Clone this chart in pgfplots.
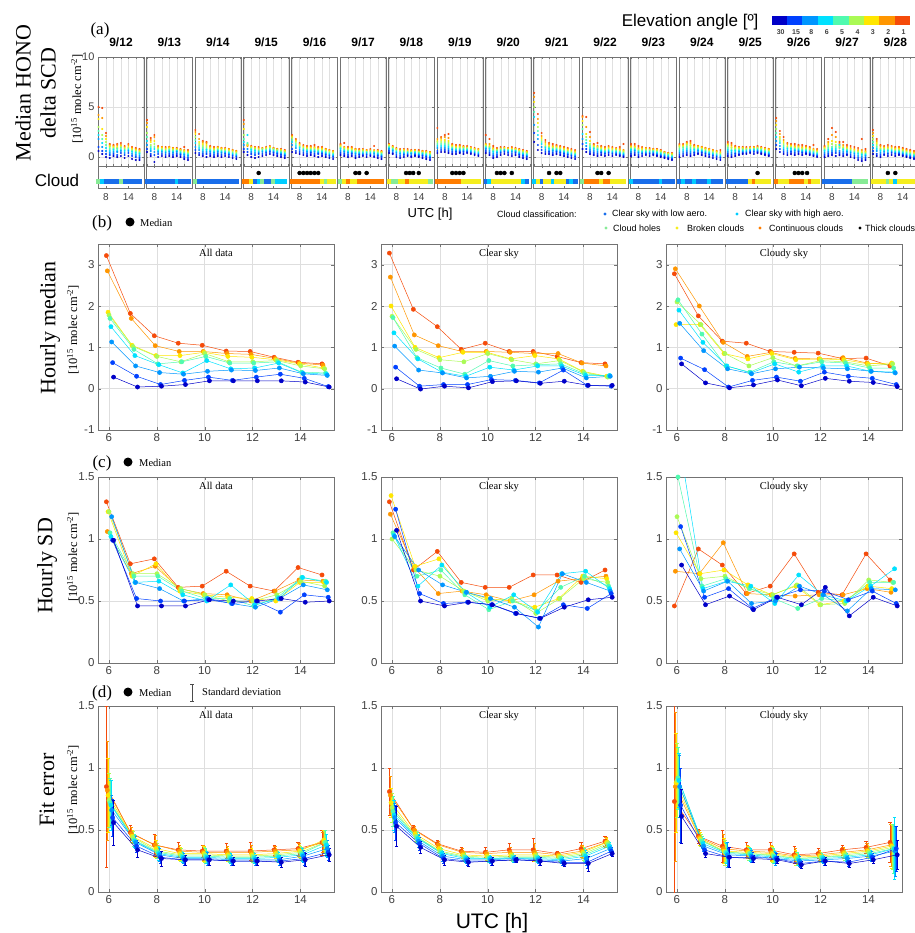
\documentclass[border=0pt]{standalone}
\usepackage{pgfplots}
\pgfplotsset{compat=1.18}
\usepackage{pgfplotstable}
\usepackage{fontspec}
\setmainfont{Liberation Serif}
\setsansfont{Liberation Sans}

\definecolor{e30}{RGB}{0,0,200}
\definecolor{e15}{RGB}{0,65,255}
\definecolor{e8}{RGB}{0,150,255}
\definecolor{e6}{RGB}{0,225,255}
\definecolor{e5}{RGB}{80,250,175}
\definecolor{e4}{RGB}{170,250,85}
\definecolor{e3}{RGB}{255,230,0}
\definecolor{e2}{RGB}{255,150,0}
\definecolor{e1}{RGB}{245,75,10}
\definecolor{clL}{RGB}{25,110,235}
\definecolor{clH}{RGB}{0,205,255}
\definecolor{clO}{RGB}{135,235,150}
\definecolor{clB}{RGB}{245,238,30}
\definecolor{clC}{RGB}{255,125,0}

% ---------- panel (a) daily data: h, nine elevation angles, cloud class ----------
\pgfplotstableread{
h e30 e15 e8 e6 e5 e4 e3 e2 e1 c
6 0.6 1.0 1.8 2.2 2.6 3.0 3.8 4.2 5.0 O
7 0.3 0.6 1.0 1.4 1.8 2.2 2.8 3.9 4.9 H
8 0.0 0.3 0.6 0.9 1.2 1.5 1.8 2.1 2.4 L
9 -0.1 0.2 0.4 0.6 0.8 1.0 1.1 1.2 1.3 L
10 0.1 0.3 0.5 0.7 0.8 0.9 1.0 1.1 1.2 L
11 0.0 0.2 0.5 0.6 0.8 0.9 1.0 1.2 1.3 L
12 0.1 0.4 0.6 0.7 0.9 1.0 1.1 1.2 1.4 O
13 -0.1 0.2 0.4 0.6 0.7 0.8 0.9 1.0 1.1 L
14 0.1 0.4 0.6 0.7 0.8 0.9 1.0 1.2 1.3 L
15 -0.2 0.1 0.3 0.5 0.6 0.7 0.8 0.9 1.0 L
16 -0.3 0.0 0.2 0.4 0.5 0.6 0.7 0.8 0.9 L
17 -0.3 -0.1 0.1 0.3 0.4 0.5 0.6 0.7 0.8 L
}\dA
\pgfplotstableread{
h e30 e15 e8 e6 e5 e4 e3 e2 e1 c
6 0.5 0.8 1.2 1.6 2.0 2.4 3.0 3.4 3.7 L
7 0.1 0.3 0.6 0.8 1.0 1.2 1.5 1.7 1.9 L
8 -0.5 0.2 0.5 0.8 1.0 1.3 1.6 2.0 2.2 L
9 0.0 0.3 0.5 0.6 0.7 0.8 0.9 1.0 1.1 L
10 0.1 0.3 0.5 0.6 0.7 0.8 0.9 1.0 1.0 L
11 0.0 0.2 0.4 0.5 0.6 0.7 0.8 0.9 1.0 L
12 0.1 0.3 0.5 0.6 0.7 0.8 0.9 1.0 1.0 L
13 0.0 0.2 0.4 0.5 0.6 0.7 0.8 0.9 0.9 L
14 0.1 0.3 0.5 0.6 0.6 0.7 0.8 0.8 0.9 H
15 0.0 0.2 0.3 0.4 0.5 0.6 0.7 0.7 0.8 L
16 -0.2 0.0 0.2 0.3 0.4 0.5 0.6 0.7 1.0 L
17 -0.3 -0.1 0.1 0.2 0.3 0.4 0.5 0.6 0.7 L
}\dB
\pgfplotstableread{
h e30 e15 e8 e6 e5 e4 e3 e2 e1 c
6 0.4 0.7 1.0 1.4 1.7 2.0 2.3 2.5 2.7 O
7 0.2 0.4 0.7 0.9 1.1 1.3 1.5 1.8 2.3 L
8 0.1 0.3 0.5 0.7 0.9 1.1 1.3 1.5 1.6 L
9 0.0 0.3 0.5 0.7 0.8 1.0 1.2 1.4 1.5 L
10 0.1 0.3 0.5 0.6 0.7 0.8 0.9 1.0 1.1 L
11 0.0 0.2 0.4 0.5 0.6 0.7 0.8 0.9 1.0 L
12 0.1 0.3 0.5 0.6 0.7 0.8 0.9 1.0 1.0 L
13 0.0 0.2 0.4 0.5 0.6 0.7 0.8 0.9 0.9 L
14 0.1 0.3 0.4 0.5 0.6 0.7 0.8 0.8 0.9 L
15 0.0 0.2 0.3 0.4 0.5 0.6 0.7 0.8 0.8 L
16 -0.1 0.1 0.2 0.3 0.4 0.5 0.6 0.7 0.7 L
17 -0.2 0.0 0.1 0.2 0.3 0.4 0.5 0.6 0.6 L
}\dC
\pgfplotstableread{
h e30 e15 e8 e6 e5 e4 e3 e2 e1 c
6 0.5 0.8 1.2 1.5 1.8 2.2 2.8 3.3 3.7 C
7 0.2 0.5 0.8 2.2 1.4 1.3 1.2 1.1 1.2 C
8 0.0 0.3 0.5 0.7 0.8 0.9 1.0 1.0 1.1 B
9 -0.1 0.2 0.4 0.6 0.7 0.8 0.9 0.9 1.0 L
10 0.0 0.3 0.4 0.5 0.6 0.7 0.8 0.9 1.0 H
11 0.1 0.3 0.5 0.6 0.7 0.8 0.8 0.9 0.9 O
12 0.2 0.4 0.5 0.6 0.7 0.8 0.9 0.9 1.0 L
13 0.3 0.5 0.6 0.7 0.8 0.9 1.0 1.0 1.1 L
14 0.2 0.4 0.5 0.6 0.7 0.8 0.8 0.9 0.9 O
15 0.1 0.3 0.4 0.5 0.6 0.7 0.7 0.8 0.8 H
16 0.0 0.2 0.3 0.4 0.5 0.6 0.7 0.7 0.8 H
17 -0.1 0.1 0.2 0.3 0.4 0.5 0.6 0.6 0.7 H
}\dD
\pgfplotstableread{
h e30 e15 e8 e6 e5 e4 e3 e2 e1 c
6 0.5 0.8 1.2 1.5 1.7 1.9 2.0 2.1 2.2 C
7 0.4 0.6 0.9 1.1 1.3 1.5 1.6 1.7 1.8 C
8 0.3 0.5 0.7 0.9 1.0 1.1 1.2 1.3 1.4 C
9 0.2 0.4 0.6 0.7 0.8 0.9 1.0 1.1 1.2 C
10 0.1 0.3 0.5 0.6 0.7 0.8 0.9 1.0 1.1 C
11 0.2 0.4 0.5 0.6 0.7 0.8 0.9 1.0 1.1 C
12 0.1 0.3 0.5 0.6 0.7 0.8 0.9 1.0 1.2 C
13 0.0 0.3 0.4 0.5 0.6 0.7 0.8 0.9 1.0 C
14 0.1 0.3 0.4 0.5 0.6 0.7 0.8 0.9 1.0 B
15 0.0 0.2 0.3 0.4 0.5 0.6 0.7 0.8 0.8 O
16 -0.1 0.1 0.2 0.3 0.4 0.5 0.6 0.7 0.7 B
17 -0.2 0.0 0.1 0.2 0.3 0.4 0.5 0.6 0.6 B
}\dE
\pgfplotstableread{
h e30 e15 e8 e6 e5 e4 e3 e2 e1 c
6 0.2 0.4 0.6 0.8 0.9 1.0 1.1 1.2 1.3 O
7 0.1 0.3 0.5 0.6 0.7 0.8 0.9 1.0 1.4 B
8 0.0 0.2 0.4 0.5 0.6 0.7 0.8 0.9 1.0 C
9 0.1 0.3 0.4 0.5 0.6 0.7 0.8 0.9 1.0 B
10 -0.1 0.1 0.3 0.4 0.5 0.6 0.7 0.8 0.8 B
11 0.0 0.2 0.3 0.4 0.5 0.6 0.6 0.7 0.8 C
12 0.1 0.2 0.3 0.4 0.5 0.6 0.7 0.7 0.8 C
13 0.0 0.2 0.3 0.4 0.5 0.5 0.6 0.7 0.7 C
14 0.1 0.2 0.3 0.4 0.5 0.6 0.6 0.7 0.8 C
15 0.0 0.1 0.3 0.4 0.5 0.5 0.6 0.7 1.1 C
16 -0.1 0.1 0.2 0.3 0.4 0.5 0.6 0.6 0.7 C
17 -0.2 0.0 0.1 0.2 0.3 0.4 0.5 0.5 0.6 C
}\dF
\pgfplotstableread{
h e30 e15 e8 e6 e5 e4 e3 e2 e1 c
6 0.4 0.6 0.8 0.9 1.0 1.1 1.2 1.2 1.3 B
7 0.3 0.4 0.6 0.7 0.8 0.9 1.0 1.0 1.1 O
8 0.0 0.2 0.4 0.5 0.6 0.7 0.8 0.8 0.9 O
9 -0.1 0.1 0.3 0.4 0.5 0.6 0.6 0.7 0.8 B
10 0.0 0.2 0.3 0.4 0.5 0.6 0.7 0.7 0.8 B
11 0.1 0.2 0.3 0.4 0.5 0.5 0.6 0.7 0.8 C
12 0.0 0.1 0.3 0.4 0.4 0.5 0.6 0.6 0.7 B
13 0.1 0.2 0.3 0.4 0.5 0.5 0.6 0.7 0.7 B
14 0.0 0.1 0.2 0.3 0.4 0.5 0.5 0.6 0.7 B
15 -0.1 0.1 0.2 0.3 0.4 0.4 0.5 0.6 0.6 B
16 -0.2 0.0 0.1 0.2 0.3 0.4 0.5 0.5 0.6 B
17 -0.3 -0.1 0.0 0.1 0.2 0.3 0.4 0.5 0.5 O
}\dG
\pgfplotstableread{
h e30 e15 e8 e6 e5 e4 e3 e2 e1 c
6 0.4 0.6 0.9 1.1 1.3 1.5 1.6 1.8 2.9 C
7 0.5 0.7 0.9 1.1 1.3 1.5 1.7 1.9 2.0 C
8 0.5 0.7 0.9 1.1 1.3 1.5 1.7 2.0 2.2 C
9 0.4 0.6 0.8 1.0 1.2 1.4 1.6 1.9 2.3 C
10 0.3 0.5 0.7 0.8 0.9 1.0 1.1 1.2 1.3 C
11 0.3 0.5 0.6 0.7 0.8 0.9 1.0 1.1 1.2 C
12 0.4 0.5 0.6 0.7 0.8 0.9 1.0 1.1 1.2 C
13 0.3 0.5 0.6 0.7 0.8 0.9 1.0 1.0 1.1 B
14 0.4 0.5 0.6 0.7 0.8 0.9 0.9 1.0 1.1 B
15 0.3 0.4 0.5 0.6 0.7 0.8 0.9 0.9 1.0 B
16 0.2 0.3 0.4 0.5 0.6 0.7 0.8 0.8 0.9 B
17 0.1 0.2 0.3 0.4 0.5 0.6 0.7 0.8 0.8 B
}\dH
\pgfplotstableread{
h e30 e15 e8 e6 e5 e4 e3 e2 e1 c
6 0.4 0.6 0.8 0.9 1.0 1.1 1.2 1.3 2.2 L
7 0.2 0.4 0.6 0.8 0.9 1.0 1.1 1.3 1.8 H
8 -0.1 0.1 0.3 0.5 0.6 0.7 0.8 0.9 1.1 B
9 0.0 0.2 0.4 0.5 0.6 0.7 0.7 0.8 0.9 B
10 0.2 0.4 0.5 0.6 0.7 0.8 0.8 0.9 1.0 B
11 0.3 0.5 0.6 0.7 0.7 0.8 0.9 0.9 1.0 B
12 0.2 0.4 0.5 0.6 0.7 0.7 0.8 0.9 0.9 B
13 0.1 0.3 0.5 0.6 0.7 0.7 0.8 0.9 1.0 B
14 0.2 0.4 0.5 0.6 0.6 0.7 0.8 0.8 0.9 B
15 0.0 0.2 0.3 0.4 0.5 0.6 0.7 0.7 0.8 B
16 -0.1 0.1 0.2 0.3 0.4 0.5 0.6 0.6 0.7 H
17 -0.2 0.0 0.1 0.2 0.3 0.4 0.5 0.5 0.6 L
}\dI
\pgfplotstableread{
h e30 e15 e8 e6 e5 e4 e3 e2 e1 c
6 1.5 2.4 3.2 4.0 4.5 5.0 5.5 6.0 6.4 H
7 0.7 1.2 1.8 2.2 2.6 3.0 3.4 3.8 4.3 B
8 0.4 0.7 1.0 1.3 1.5 1.7 1.9 2.1 2.4 L
9 0.3 0.5 0.7 0.9 1.0 1.1 1.3 1.5 1.7 B
10 0.3 0.5 0.6 0.8 0.9 1.0 1.1 1.3 1.4 B
11 0.2 0.4 0.6 0.7 0.8 0.9 1.0 1.1 1.3 H
12 0.3 0.5 0.6 0.7 0.8 0.9 1.0 1.1 1.2 B
13 0.2 0.4 0.5 0.6 0.7 0.8 0.9 1.0 1.1 B
14 0.1 0.3 0.4 0.5 0.6 0.7 0.8 0.9 1.0 B
15 0.0 0.2 0.3 0.4 0.5 0.6 0.7 0.8 0.9 L
16 -0.1 0.1 0.2 0.3 0.4 0.5 0.6 0.7 0.8 H
17 -0.2 0.0 0.1 0.2 0.3 0.4 0.5 0.6 0.7 L
}\dJ
\pgfplotstableread{
h e30 e15 e8 e6 e5 e4 e3 e2 e1 c
6 0.8 1.3 1.8 2.3 2.8 3.2 3.6 4.0 4.1 O
7 0.5 0.8 1.1 1.4 1.7 2.0 2.3 3.0 4.0 C
8 0.3 0.5 0.7 0.9 1.1 1.3 1.6 2.0 2.5 C
9 0.2 0.4 0.6 0.8 0.9 1.0 1.1 1.2 1.3 C
10 0.1 0.3 0.5 0.7 0.8 0.9 1.0 1.1 1.4 C
11 0.2 0.4 0.5 0.6 0.7 0.8 0.9 1.0 1.1 B
12 0.1 0.3 0.4 0.5 0.6 0.7 0.8 0.9 1.0 C
13 0.2 0.4 0.5 0.6 0.7 0.8 0.9 1.0 1.1 C
14 0.1 0.3 0.4 0.5 0.6 0.7 0.8 0.9 1.0 B
15 0.2 0.3 0.4 0.5 0.6 0.7 0.8 0.8 0.9 B
16 0.1 0.2 0.3 0.4 0.5 0.6 0.7 0.8 1.0 B
17 0.0 0.1 0.2 0.3 0.4 0.5 0.6 0.7 1.3 B
}\dK
\pgfplotstableread{
h e30 e15 e8 e6 e5 e4 e3 e2 e1 c
6 0.1 0.3 0.5 0.7 0.8 0.9 1.0 1.1 1.3 H
7 0.2 0.4 0.6 0.7 0.8 0.9 1.0 1.1 1.3 L
8 0.0 0.2 0.4 0.5 0.6 0.7 0.8 0.9 1.1 L
9 0.1 0.3 0.4 0.5 0.6 0.7 0.8 0.9 1.0 L
10 0.2 0.3 0.4 0.5 0.6 0.7 0.8 0.9 0.9 L
11 0.1 0.3 0.4 0.5 0.6 0.7 0.7 0.8 0.9 L
12 0.2 0.3 0.4 0.5 0.6 0.6 0.7 0.8 0.8 L
13 0.1 0.2 0.3 0.4 0.5 0.6 0.7 0.7 0.8 L
14 0.0 0.1 0.2 0.3 0.4 0.5 0.6 0.6 0.7 H
15 -0.1 0.0 0.1 0.2 0.3 0.4 0.4 0.5 0.5 L
16 -0.2 -0.1 0.0 0.1 0.2 0.3 0.3 0.4 0.4 L
17 -0.3 -0.2 -0.1 0.0 0.1 0.2 0.3 0.3 0.4 L
}\dL
\pgfplotstableread{
h e30 e15 e8 e6 e5 e4 e3 e2 e1 c
6 0.0 0.2 0.4 0.6 0.8 1.0 1.1 1.2 1.3 L
7 0.1 0.3 0.5 0.7 0.9 1.0 1.1 1.2 1.3 H
8 0.2 0.4 0.6 0.8 1.0 1.2 1.3 1.4 1.5 L
9 0.1 0.3 0.5 0.7 0.9 1.1 1.2 1.4 1.6 L
10 0.2 0.4 0.5 0.7 0.8 0.9 1.0 1.1 1.2 H
11 0.3 0.4 0.6 0.7 0.8 0.9 1.0 1.1 1.1 L
12 0.2 0.4 0.5 0.6 0.7 0.8 0.9 1.0 1.0 L
13 0.1 0.3 0.4 0.5 0.6 0.7 0.8 0.9 0.9 L
14 0.0 0.2 0.3 0.4 0.5 0.6 0.7 0.8 0.8 H
15 -0.1 0.1 0.2 0.3 0.4 0.5 0.6 0.7 0.7 L
16 -0.2 0.0 0.1 0.2 0.3 0.4 0.5 0.6 0.6 L
17 -0.3 -0.1 0.0 0.1 0.2 0.3 0.4 0.5 0.7 L
}\dM
\pgfplotstableread{
h e30 e15 e8 e6 e5 e4 e3 e2 e1 c
6 0.1 0.3 0.5 0.7 0.9 1.1 1.2 1.3 1.5 L
7 0.0 0.2 0.4 0.6 0.7 0.9 1.0 1.2 1.4 L
8 0.1 0.3 0.4 0.6 0.7 0.8 0.9 1.0 1.1 L
9 0.2 0.3 0.5 0.6 0.7 0.8 0.9 0.9 1.0 L
10 0.3 0.4 0.5 0.6 0.7 0.8 0.9 0.9 1.0 L
11 0.3 0.4 0.5 0.6 0.7 0.8 0.8 0.9 1.0 L
12 0.4 0.5 0.6 0.7 0.7 0.8 0.9 0.9 1.0 B
13 0.3 0.5 0.6 0.7 0.8 0.8 0.9 1.0 1.0 C
14 0.4 0.5 0.6 0.7 0.8 0.9 0.9 1.0 1.1 B
15 0.3 0.4 0.5 0.6 0.7 0.8 0.9 0.9 1.0 B
16 0.2 0.3 0.4 0.5 0.6 0.7 0.8 0.8 0.9 B
17 0.1 0.2 0.3 0.4 0.5 0.6 0.7 0.8 0.8 B
}\dN
\pgfplotstableread{
h e30 e15 e8 e6 e5 e4 e3 e2 e1 c
6 0.8 1.2 1.6 2.0 2.4 2.8 3.2 3.6 3.9 C
7 0.5 0.8 1.1 1.4 1.6 1.8 2.0 2.3 2.6 B
8 0.3 0.5 0.7 0.9 1.1 1.3 1.5 1.7 2.0 B
9 0.2 0.4 0.6 0.8 0.9 1.0 1.1 1.3 1.4 B
10 0.3 0.5 0.6 0.8 0.9 1.0 1.1 1.2 1.3 C
11 0.2 0.4 0.6 0.7 0.8 0.9 1.0 1.1 1.3 C
12 0.3 0.5 0.6 0.7 0.8 0.9 1.0 1.1 1.2 C
13 0.2 0.4 0.5 0.6 0.7 0.8 0.9 1.0 1.2 C
14 0.3 0.4 0.5 0.6 0.7 0.8 0.9 1.0 1.1 B
15 0.2 0.3 0.4 0.5 0.6 0.7 0.8 0.9 1.0 C
16 0.1 0.2 0.3 0.4 0.5 0.6 0.7 0.8 1.2 B
17 0.0 0.1 0.2 0.3 0.4 0.5 0.6 0.7 0.8 B
}\dO
\pgfplotstableread{
h e30 e15 e8 e6 e5 e4 e3 e2 e1 c
6 0.0 0.2 0.4 0.6 0.7 0.8 0.9 1.0 1.1 L
7 0.1 0.3 0.5 0.7 0.9 1.1 1.3 1.5 1.8 L
8 0.2 0.4 0.6 0.8 1.0 1.3 1.6 2.2 2.9 L
9 0.1 0.4 0.6 0.8 1.0 1.2 1.5 2.0 2.5 L
10 0.2 0.4 0.6 1.2 0.9 1.0 1.1 1.3 1.5 L
11 0.1 0.3 0.5 0.7 0.8 0.9 1.0 1.2 1.5 L
12 0.2 0.3 0.5 0.6 0.7 0.8 0.9 1.0 1.2 L
13 0.0 0.2 0.4 0.5 0.6 0.7 0.8 0.9 1.1 L
14 -0.1 0.1 0.3 0.4 0.5 0.6 0.7 0.8 1.0 O
15 -0.3 -0.1 0.1 0.3 0.4 0.5 0.6 0.7 0.9 O
16 -0.4 -0.2 0.0 0.2 0.3 0.4 0.5 0.7 1.8 O
17 -0.3 -0.1 0.1 0.2 0.3 0.4 0.5 0.6 0.8 O
}\dP
\pgfplotstableread{
h e30 e15 e8 e6 e5 e4 e3 e2 e1 c
6 0.3 0.6 0.9 1.2 1.5 1.8 2.1 2.4 2.7 B
7 0.1 0.3 0.6 0.8 1.0 1.2 1.4 1.6 1.8 B
8 0.0 0.2 0.4 0.6 0.7 0.8 0.9 1.1 1.2 B
9 0.2 0.3 0.5 0.6 0.7 0.8 0.9 1.0 1.1 B
10 0.1 0.3 0.4 0.6 0.7 0.8 0.9 1.0 1.2 O
11 0.2 0.4 0.5 0.6 0.7 0.8 0.9 1.0 1.1 B
12 0.1 0.3 0.4 0.5 0.6 0.7 0.8 0.9 1.0 H
13 0.2 0.3 0.4 0.5 0.6 0.7 0.8 0.9 1.0 B
14 0.1 0.2 0.3 0.4 0.5 0.6 0.7 0.8 0.9 B
15 0.0 0.1 0.2 0.3 0.4 0.5 0.6 0.7 0.8 B
16 -0.1 0.0 0.1 0.2 0.3 0.4 0.5 0.6 0.7 B
17 -0.2 -0.1 0.0 0.1 0.2 0.3 0.4 0.5 0.6 B
}\dQ

% ---------- panel (b): hourly median ----------
\pgfplotstableread{
h e30 e15 e8 e6 e5 e4 e3 e2 e1
6 0.28 0.63 1.13 1.50 1.70 1.78 1.85 2.85 3.22
7 0.04 0.30 0.55 0.80 0.95 1.02 1.05 1.70 1.82
8 0.06 0.10 0.39 0.58 0.60 0.78 0.80 1.04 1.28
9 0.10 0.20 0.35 0.38 0.65 0.65 0.80 0.90 1.10
10 0.19 0.28 0.42 0.68 0.78 0.85 0.88 0.90 1.05
11 0.19 0.20 0.45 0.48 0.62 0.65 0.78 0.85 0.91
12 0.19 0.28 0.44 0.50 0.62 0.65 0.76 0.83 0.90
13 0.19 0.35 0.50 0.62 0.65 0.68 0.70 0.73 0.76
14 0.16 0.25 0.36 0.38 0.40 0.55 0.60 0.62 0.64
15 0.04 0.05 0.32 0.35 0.38 0.48 0.50 0.57 0.60
}\hbA
\pgfplotstableread{
h e30 e15 e8 e6 e5 e4 e3 e2 e1
6 0.24 0.52 1.03 1.35 1.72 1.75 2.00 2.70 3.28
7 -0.01 0.06 0.45 0.72 0.75 0.95 1.00 1.30 1.92
8 0.06 0.10 0.38 0.40 0.50 0.70 0.75 1.04 1.50
9 0.02 0.10 0.26 0.30 0.35 0.65 0.88 0.90 0.95
10 0.17 0.22 0.30 0.52 0.68 0.85 0.88 0.90 1.10
11 0.19 0.20 0.42 0.45 0.55 0.70 0.72 0.88 0.90
12 0.13 0.14 0.40 0.55 0.58 0.60 0.80 0.85 0.90
13 0.18 0.45 0.50 0.55 0.60 0.68 0.72 0.85 0.78
14 0.08 0.08 0.26 0.32 0.36 0.40 0.42 0.62 0.63
15 0.08 0.06 0.30 0.32 0.30 0.28 0.30 0.55 0.60
}\hbB
\pgfplotstableread{
h e30 e15 e8 e6 e5 e4 e3 e2 e1
6 0.60 0.74 1.58 1.90 2.15 2.10 1.55 2.90 2.78
7 0.14 0.46 0.92 1.12 1.32 1.55 1.55 2.00 1.76
8 0.02 0.04 0.48 0.55 0.55 0.85 0.85 1.12 1.15
9 0.09 0.20 0.36 0.38 0.40 0.55 0.72 0.78 1.10
10 0.21 0.28 0.48 0.60 0.65 0.75 0.85 0.88 0.90
11 0.07 0.18 0.52 0.40 0.55 0.55 0.70 0.73 0.88
12 0.25 0.40 0.50 0.55 0.65 0.68 0.72 0.72 0.86
13 0.18 0.30 0.48 0.55 0.62 0.65 0.70 0.75 0.73
14 0.15 0.25 0.42 0.42 0.50 0.55 0.60 0.62 0.74
15 0.05 0.10 0.38 0.40 0.50 0.60 0.62 0.58 0.55
}\hbC

% ---------- panel (c): hourly SD ----------
\pgfplotstableread{
h e30 e15 e8 e6 e5 e4 e3 e2 e1
6 0.99 0.99 1.18 1.02 1.05 1.22 1.22 1.06 1.30
7 0.46 0.52 0.65 0.65 0.70 0.72 0.70 0.72 0.80
8 0.46 0.50 0.60 0.66 0.70 0.72 0.80 0.78 0.84
9 0.46 0.50 0.50 0.55 0.58 0.60 0.58 0.60 0.61
10 0.51 0.51 0.52 0.50 0.52 0.55 0.55 0.56 0.62
11 0.50 0.48 0.48 0.63 0.52 0.50 0.53 0.55 0.74
12 0.50 0.50 0.45 0.47 0.46 0.50 0.52 0.50 0.62
13 0.52 0.41 0.52 0.52 0.53 0.55 0.50 0.58 0.58
14 0.49 0.55 0.63 0.69 0.69 0.66 0.65 0.67 0.77
15 0.50 0.53 0.59 0.65 0.66 0.62 0.65 0.66 0.71
}\hcA
\pgfplotstableread{
h e30 e15 e8 e6 e5 e4 e3 e2 e1
6 1.07 1.24 1.02 1.03 1.05 1.00 1.35 1.20 1.30
7 0.50 0.56 0.75 0.62 0.70 0.75 0.78 0.77 0.75
8 0.46 0.48 0.63 0.79 0.75 0.70 0.84 0.56 0.90
9 0.49 0.49 0.57 0.57 0.55 0.58 0.58 0.58 0.65
10 0.47 0.47 0.52 0.45 0.43 0.50 0.52 0.55 0.61
11 0.40 0.40 0.45 0.55 0.50 0.52 0.50 0.50 0.61
12 0.36 0.36 0.29 0.41 0.42 0.40 0.45 0.55 0.71
13 0.45 0.47 0.72 0.72 0.61 0.52 0.52 0.66 0.71
14 0.51 0.44 0.65 0.74 0.70 0.68 0.70 0.68 0.65
15 0.53 0.56 0.58 0.60 0.62 0.65 0.68 0.70 0.75
}\hcB
\pgfplotstableread{
h e30 e15 e8 e6 e5 e4 e3 e2 e1
6 0.79 1.10 0.92 1.80 1.50 1.18 1.05 0.74 0.46
7 0.47 0.53 0.58 0.60 0.62 0.68 0.72 0.72 0.92
8 0.54 0.60 0.66 0.66 0.68 0.70 0.75 0.97 0.79
9 0.43 0.44 0.48 0.62 0.60 0.60 0.63 0.56 0.56
10 0.53 0.53 0.50 0.48 0.52 0.55 0.55 0.55 0.62
11 0.47 0.59 0.62 0.71 0.44 0.63 0.62 0.54 0.88
12 0.61 0.58 0.55 0.55 0.52 0.47 0.47 0.55 0.57
13 0.38 0.51 0.42 0.50 0.50 0.48 0.50 0.55 0.55
14 0.53 0.58 0.60 0.62 0.65 0.67 0.62 0.60 0.88
15 0.46 0.48 0.59 0.76 0.65 0.65 0.60 0.57 0.67
}\hcC

% ---------- panel (d): fit error, median and standard deviation ----------
\pgfplotstableread{
h e30 e15 e8 e6 e5 e4 e3 e2 e1 s30 s15 s8 s6 s5 s4 s3 s2 s1
6 0.56 0.60 0.66 0.70 0.72 0.74 0.78 0.82 0.85 0.18 0.15 0.12 0.20 0.20 0.22 0.30 0.40 0.65
7 0.34 0.37 0.40 0.41 0.42 0.44 0.45 0.47 0.48 0.06 0.05 0.05 0.05 0.05 0.05 0.05 0.05 0.06
8 0.27 0.28 0.30 0.31 0.32 0.33 0.35 0.38 0.38 0.06 0.05 0.05 0.05 0.05 0.06 0.07 0.08 0.09
9 0.26 0.26 0.27 0.28 0.29 0.30 0.31 0.33 0.34 0.04 0.04 0.04 0.04 0.04 0.05 0.05 0.05 0.06
10 0.26 0.26 0.27 0.28 0.29 0.30 0.31 0.32 0.33 0.04 0.04 0.05 0.05 0.06 0.06 0.06 0.06 0.05
11 0.25 0.25 0.26 0.27 0.28 0.29 0.30 0.32 0.33 0.03 0.03 0.04 0.04 0.04 0.04 0.05 0.05 0.06
12 0.25 0.25 0.26 0.27 0.28 0.29 0.30 0.32 0.33 0.03 0.03 0.04 0.04 0.04 0.05 0.05 0.06 0.07
13 0.24 0.25 0.26 0.28 0.29 0.30 0.31 0.33 0.34 0.04 0.03 0.04 0.04 0.04 0.04 0.04 0.04 0.04
14 0.26 0.27 0.29 0.30 0.31 0.32 0.33 0.34 0.35 0.05 0.05 0.05 0.05 0.05 0.05 0.05 0.05 0.05
15 0.30 0.32 0.35 0.38 0.40 0.40 0.42 0.40 0.40 0.05 0.06 0.07 0.09 0.10 0.09 0.08 0.08 0.10
}\hdA
\pgfplotstableread{
h e30 e15 e8 e6 e5 e4 e3 e2 e1 s30 s15 s8 s6 s5 s4 s3 s2 s1
6 0.53 0.56 0.60 0.62 0.65 0.68 0.72 0.78 0.81 0.16 0.14 0.12 0.12 0.12 0.12 0.12 0.15 0.19
7 0.36 0.39 0.41 0.43 0.44 0.45 0.47 0.50 0.51 0.05 0.05 0.05 0.04 0.04 0.04 0.04 0.03 0.03
8 0.26 0.27 0.29 0.31 0.32 0.33 0.35 0.38 0.39 0.04 0.04 0.04 0.03 0.03 0.03 0.03 0.03 0.03
9 0.24 0.25 0.26 0.27 0.28 0.29 0.30 0.32 0.33 0.03 0.03 0.03 0.03 0.03 0.03 0.03 0.03 0.03
10 0.25 0.25 0.26 0.27 0.27 0.28 0.29 0.31 0.32 0.03 0.03 0.03 0.03 0.03 0.03 0.03 0.03 0.04
11 0.26 0.26 0.27 0.27 0.28 0.29 0.30 0.32 0.34 0.02 0.02 0.03 0.03 0.03 0.03 0.04 0.04 0.05
12 0.25 0.25 0.26 0.27 0.28 0.29 0.30 0.32 0.34 0.03 0.03 0.03 0.03 0.03 0.04 0.05 0.07 0.09
13 0.23 0.24 0.25 0.26 0.27 0.28 0.29 0.30 0.31 0.02 0.02 0.03 0.03 0.03 0.03 0.02 0.02 0.02
14 0.23 0.24 0.27 0.29 0.30 0.31 0.32 0.33 0.35 0.06 0.05 0.05 0.05 0.05 0.05 0.05 0.05 0.05
15 0.31 0.33 0.35 0.37 0.38 0.39 0.40 0.40 0.41 0.02 0.03 0.03 0.03 0.03 0.03 0.03 0.04 0.04
}\hdB
\pgfplotstableread{
h e30 e15 e8 e6 e5 e4 e3 e2 e1 s30 s15 s8 s6 s5 s4 s3 s2 s1
6 0.61 0.70 0.85 0.90 0.92 0.90 0.88 0.85 0.73 0.22 0.30 0.25 0.22 0.25 0.30 0.40 0.60 0.90
7 0.31 0.34 0.37 0.39 0.41 0.42 0.43 0.44 0.45 0.03 0.03 0.04 0.04 0.04 0.05 0.05 0.06 0.06
8 0.28 0.28 0.30 0.31 0.32 0.32 0.33 0.35 0.37 0.08 0.07 0.10 0.08 0.08 0.10 0.10 0.12 0.13
9 0.27 0.28 0.29 0.30 0.31 0.31 0.32 0.33 0.34 0.03 0.04 0.05 0.05 0.05 0.05 0.05 0.05 0.06
10 0.26 0.27 0.27 0.28 0.29 0.30 0.31 0.32 0.34 0.03 0.04 0.05 0.05 0.06 0.06 0.06 0.06 0.06
11 0.22 0.23 0.25 0.26 0.27 0.27 0.28 0.29 0.30 0.03 0.03 0.04 0.04 0.05 0.05 0.06 0.06 0.07
12 0.25 0.25 0.26 0.27 0.28 0.28 0.29 0.30 0.31 0.03 0.03 0.03 0.03 0.03 0.04 0.04 0.04 0.04
13 0.23 0.24 0.27 0.28 0.29 0.30 0.31 0.32 0.34 0.03 0.03 0.03 0.03 0.03 0.04 0.04 0.04 0.04
14 0.26 0.28 0.29 0.30 0.31 0.32 0.33 0.34 0.36 0.03 0.03 0.04 0.04 0.04 0.04 0.05 0.05 0.05
15 0.30 0.35 0.33 0.35 0.35 0.36 0.37 0.38 0.40 0.12 0.18 0.20 0.25 0.20 0.18 0.18 0.17 0.16
}\hdC

\pgfplotsset{
  pbase/.style={scale only axis, anchor=north west,
    axis line style={black!55, line width=0.6pt}, tick style={black!55},
    tick align=inside, /pgf/number format/assume math mode=true},
  pa/.style={pbase, width=46pt, height=109pt, xmin=5.85, xmax=18.2, ymin=-0.9, ymax=10,
    xtick={6,8,...,18}, xticklabels={}, ytick={0,5,10}, yticklabels={},
    grid=major, major grid style={black!12, line width=0.3pt}, major tick length=2pt,
    tick label style={font=\fontsize{11}{11}\sffamily, text=black!75},
    title style={at={(0.5,1)}, anchor=south, yshift=4pt, inner sep=0pt,
      font=\fontsize{12}{12}\bfseries\sffamily}},
  pcl/.style={pbase, width=46pt, height=22pt, xmin=5.85, xmax=18.2, ymin=0, ymax=2.75,
    xtick={8,14}, ytick=\empty, major tick length=2pt,
    tick label style={font=\fontsize{10}{10}\sffamily, text=black!75},
    xticklabel style={yshift=-2pt}},
  hp/.style={pbase, width=236pt, height=186pt, xmin=5.55, xmax=15.4, xtick={6,8,10,12,14},
    grid=major, major grid style={black!13, line width=0.4pt}, major tick length=3pt,
    tick label style={font=\fontsize{11.5}{12}\sffamily, text=black!75},
    title style={at={(0.5,1)}, anchor=north, yshift=-8pt, font=\fontsize{10.5}{12}\selectfont}},
  hb/.style={hp, ymin=-1, ymax=3.5, ytick={-1,0,1,2,3}},
  hc/.style={hp, ymin=0, ymax=1.5, ytick={0,0.5,1,1.5}},
}

\newcommand{\dser}[2]{\addplot[only marks, mark=*, mark size=0.8pt, color=#1] table[x=h, y=#1]{#2};}
\newcommand{\dayall}[1]{\dser{e1}{#1}\dser{e2}{#1}\dser{e3}{#1}\dser{e4}{#1}\dser{e5}{#1}\dser{e6}{#1}\dser{e8}{#1}\dser{e15}{#1}\dser{e30}{#1}}
\newcommand{\daypanel}[5]{%
  \begin{axis}[pa, at={(#1pt,-57pt)}, title={#2}, #5]
    \dayall{#3}
  \end{axis}
  \begin{axis}[pcl, at={(#1pt,-166pt)}]
    \addplot[scatter, only marks, mark size=1.9pt, scatter src=explicit symbolic,
      scatter/classes={L={mark=square*, draw=clL, fill=clL}, H={mark=square*, draw=clH, fill=clH},
        O={mark=square*, draw=clO, fill=clO}, B={mark=square*, draw=clB, fill=clB},
        C={mark=square*, draw=clC, fill=clC}}]
      table[x=h, y expr=0.875, meta=c]{#3};
    \addplot[only marks, mark=*, mark size=2pt, black] coordinates {#4};
  \end{axis}}

\newcommand{\hser}[3]{\addplot[color=#1, mark=*, mark size=2.1pt, line width=0.5pt] table[x expr=\thisrow{h}#2, y=#1]{#3};}
\newcommand{\hall}[1]{\hser{e1}{-0.10}{#1}\hser{e2}{-0.06}{#1}\hser{e3}{-0.03}{#1}\hser{e4}{+0.01}{#1}\hser{e5}{+0.05}{#1}\hser{e6}{+0.09}{#1}\hser{e8}{+0.12}{#1}\hser{e15}{+0.16}{#1}\hser{e30}{+0.20}{#1}}
\newcommand{\eser}[4]{\addplot[color=#1, mark=*, mark size=2.1pt, line width=0.5pt,
   error bars/.cd, y dir=both, y explicit, error bar style={line width=0.4pt},
   error mark options={rotate=90, mark size=1.6pt, line width=0.4pt}]
   table[x expr=\thisrow{h}#2, y=#1, y error=#3]{#4};}
\newcommand{\eall}[1]{\eser{e1}{-0.10}{s1}{#1}\eser{e2}{-0.06}{s2}{#1}\eser{e3}{-0.03}{s3}{#1}\eser{e4}{+0.01}{s4}{#1}\eser{e5}{+0.05}{s5}{#1}\eser{e6}{+0.09}{s6}{#1}\eser{e8}{+0.12}{s8}{#1}\eser{e15}{+0.16}{s15}{#1}\eser{e30}{+0.20}{s30}{#1}}

\begin{document}
\begin{tikzpicture}
\useasboundingbox (0pt,0pt) rectangle (914pt,-933pt);

% ===== panel (a) =====
\daypanel{98}{9/12}{\dA}{}{yticklabels={0,5,10}}
\daypanel{146.4}{9/13}{\dB}{}{}
\daypanel{194.8}{9/14}{\dC}{}{}
\daypanel{243.2}{9/15}{\dD}{(10,1.875)}{}
\daypanel{291.6}{9/16}{\dE}{(8,1.875)(9,1.875)(10,1.875)(11,1.875)(12,1.875)(13,1.875)}{}
\daypanel{340}{9/17}{\dF}{(10,1.875)(11,1.875)(13,1.875)}{}
\daypanel{388.4}{9/18}{\dG}{(10.6,1.875)(11.6,1.875)(12.5,1.875)(14,1.875)}{}
\daypanel{436.8}{9/19}{\dH}{(10,1.875)(11,1.875)(12,1.875)(13,1.875)}{}
\daypanel{485.2}{9/20}{\dI}{(9,1.875)(10,1.875)(11,1.875)(13,1.875)}{}
\daypanel{533.6}{9/21}{\dJ}{(10,1.875)(12,1.875)(13,1.875)}{}
\daypanel{582}{9/22}{\dK}{(10,1.875)(11,1.875)(13,1.875)}{}
\daypanel{630.4}{9/23}{\dL}{}{}
\daypanel{678.8}{9/24}{\dM}{}{}
\daypanel{727.2}{9/25}{\dN}{(14,1.875)}{}
\daypanel{775.6}{9/26}{\dO}{(11,1.875)(12,1.875)(13,1.875)(14.3,1.875)}{}
\daypanel{824}{9/27}{\dP}{}{}
\daypanel{872.4}{9/28}{\dQ}{(10,1.875)(12,1.875)}{}

\node[font=\fontsize{17}{17}\selectfont] at (100pt,-30pt) {(a)};
\node[rotate=90, font=\fontsize{22}{22}\selectfont] at (23pt,-93pt) {Median HONO};
\node[rotate=90, font=\fontsize{22}{22}\selectfont] at (48pt,-93pt) {delta SCD};
\node[rotate=90, font=\fontsize{12.5}{13}\selectfont] at (77pt,-99pt) {[10\textsuperscript{15} molec cm\textsuperscript{-2}]};
\node[font=\fontsize{17}{17}\sffamily] at (57pt,-180pt) {Cloud};
\node[font=\fontsize{13}{13}\sffamily] at (430pt,-214pt) {UTC [h]};

% colour bar for elevation angle
\foreach \c [count=\i from 0] in {e30,e15,e8,e6,e5,e4,e3,e2,e1}
  \fill[\c] ({771.7pt+15.37pt*\i},-16pt) rectangle ({771.7pt+15.37pt*(\i+1)},-25pt);
\foreach \l [count=\i from 0] in {30,15,8,6,5,4,3,2,1}
  \node[font=\fontsize{7}{7}\bfseries\sffamily, text=black!75] at ({773pt+15.37pt*(\i+0.5)},-32pt) {\l};
\node[anchor=east, font=\fontsize{17}{17}\sffamily] at (762pt,-22pt) {Elevation angle [º]};

% cloud classification legend
\begin{scope}[every node/.style={anchor=west, inner sep=0pt, font=\fontsize{9}{9}\sffamily}]
\node at (497pt,-214pt) {Cloud classification:};
\fill[clL] (605pt,-214pt) circle (1.6pt); \node at (612pt,-214pt) {Clear sky with low aero.};
\fill[clH] (737pt,-214pt) circle (1.6pt); \node at (745pt,-214pt) {Clear sky with high aero.};
\fill[clO] (606pt,-228pt) circle (1.6pt); \node at (613pt,-228pt) {Cloud holes};
\fill[clB] (677pt,-228pt) circle (1.6pt); \node at (687pt,-228pt) {Broken clouds};
\fill[clC] (760pt,-228pt) circle (1.6pt); \node at (769pt,-228pt) {Continuous clouds};
\fill[black] (860pt,-228pt) circle (1.6pt); \node at (865pt,-228pt) {Thick clouds};
\end{scope}

% ===== panel (b) =====
\begin{axis}[hb, at={(98pt,-244pt)}, title={All data}] \hall{\hbA} \end{axis}
\begin{axis}[hb, at={(381pt,-244pt)}, title={Clear sky}] \hall{\hbB} \end{axis}
\begin{axis}[hb, at={(666pt,-244pt)}, title={Cloudy sky}] \hall{\hbC} \end{axis}
\node[font=\fontsize{17}{17}\selectfont] at (102pt,-223pt) {(b)};
\fill (130pt,-222pt) circle (4.5pt);
\node[anchor=west, inner sep=0pt, font=\fontsize{10.5}{11}\selectfont] at (140pt,-223pt) {Median};
\node[rotate=90, font=\fontsize{22}{22}\selectfont] at (50pt,-328pt) {Hourly median};
\node[rotate=90, font=\fontsize{12.5}{13}\selectfont] at (73pt,-330pt) {[10\textsuperscript{15} molec cm\textsuperscript{-2}]};

% ===== panel (c) =====
\begin{axis}[hc, at={(98pt,-477pt)}, title={All data}] \hall{\hcA} \end{axis}
\begin{axis}[hc, at={(381pt,-477pt)}, title={Clear sky}] \hall{\hcB} \end{axis}
\begin{axis}[hc, at={(666pt,-477pt)}, title={Cloudy sky}] \hall{\hcC} \end{axis}
\node[font=\fontsize{17}{17}\selectfont] at (102pt,-463pt) {(c)};
\fill (128pt,-462pt) circle (4.5pt);
\node[anchor=west, inner sep=0pt, font=\fontsize{10.5}{11}\selectfont] at (139pt,-463pt) {Median};
\node[rotate=90, font=\fontsize{22}{22}\selectfont] at (47pt,-566pt) {Hourly SD};
\node[rotate=90, font=\fontsize{12.5}{13}\selectfont] at (73pt,-557pt) {[10\textsuperscript{15} molec cm\textsuperscript{-2}]};

% ===== panel (d) =====
\begin{axis}[hc, at={(98pt,-706pt)}, title={All data}] \eall{\hdA} \end{axis}
\begin{axis}[hc, at={(381pt,-706pt)}, title={Clear sky}] \eall{\hdB} \end{axis}
\begin{axis}[hc, at={(666pt,-706pt)}, title={Cloudy sky}] \eall{\hdC} \end{axis}
\node[font=\fontsize{17}{17}\selectfont] at (102pt,-693pt) {(d)};
\fill (128pt,-692pt) circle (4.5pt);
\node[anchor=west, inner sep=0pt, font=\fontsize{10.5}{11}\selectfont] at (139pt,-693pt) {Median};
\draw[black!70, line width=0.5pt] (192pt,-684pt) -- (192pt,-701pt) (190pt,-684pt) -- (194pt,-684pt) (190pt,-701pt) -- (194pt,-701pt);
\node[anchor=west, inner sep=0pt, font=\fontsize{10.5}{11}\selectfont] at (202pt,-692pt) {Standard deviation};
\node[rotate=90, font=\fontsize{22}{22}\selectfont] at (47pt,-790pt) {Fit error};
\node[rotate=90, font=\fontsize{12.5}{13}\selectfont] at (73pt,-790pt) {[10\textsuperscript{15} molec cm\textsuperscript{-2}]};

\node[font=\fontsize{21}{21}\sffamily] at (492pt,-923pt) {UTC [h]};
\end{tikzpicture}
\end{document}
